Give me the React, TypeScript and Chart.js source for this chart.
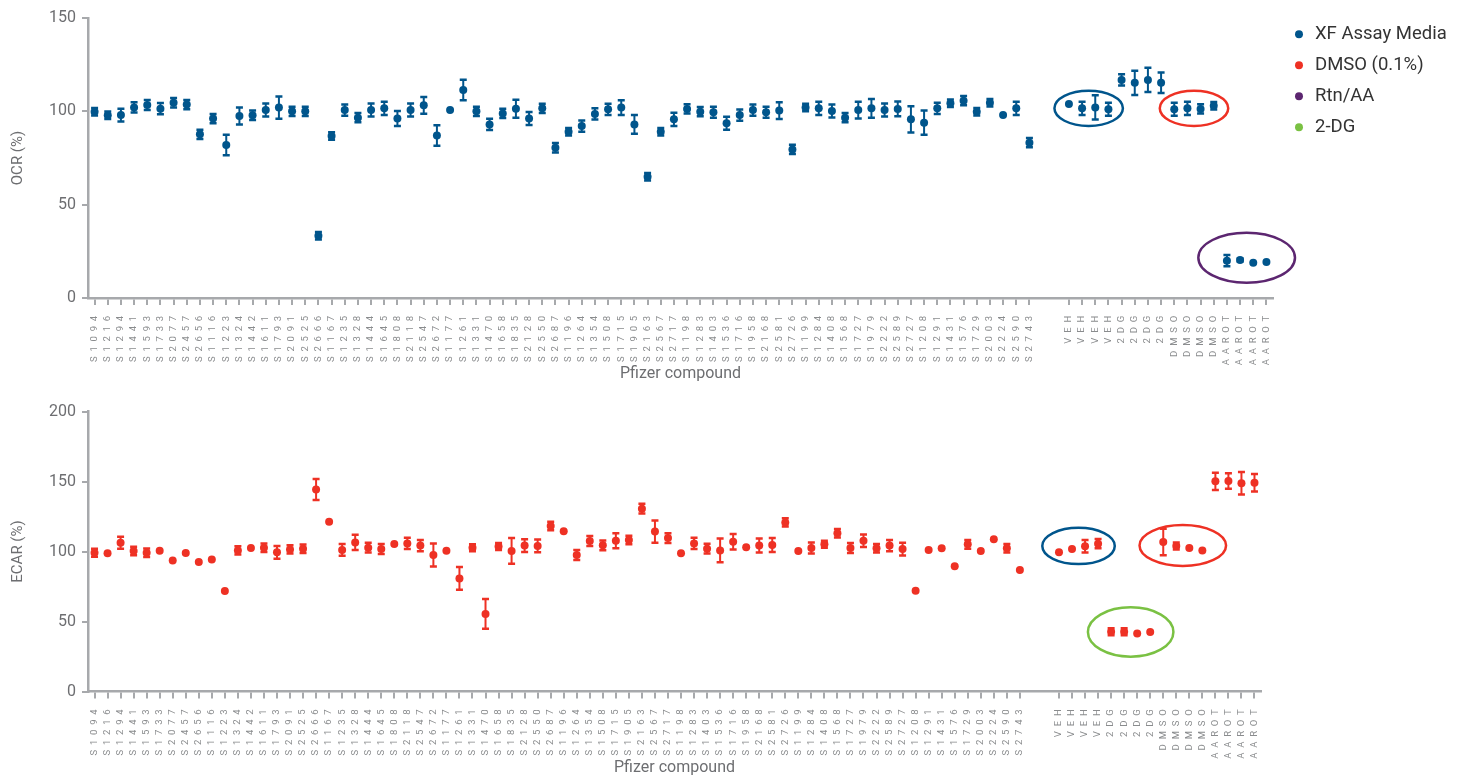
import React, { useEffect, useRef } from 'react';
import { Chart, registerables } from 'chart.js';

Chart.register(...registerables);

// ---------- data ----------
const compounds = [
  'S1094', 'S1216', 'S1294', 'S1441', 'S1593', 'S1733', 'S2077', 'S2457', 'S2656',
  'S1116', 'S1223', 'S1324', 'S1442', 'S1611', 'S1793', 'S2091', 'S2525', 'S2666',
  'S1167', 'S1235', 'S1328', 'S1444', 'S1645', 'S1808', 'S2118', 'S2547', 'S2672',
  'S1177', 'S1261', 'S1331', 'S1470', 'S1658', 'S1835', 'S2128', 'S2550', 'S2687',
  'S1196', 'S1264', 'S1354', 'S1508', 'S1715', 'S1905', 'S2163', 'S2567', 'S2717',
  'S1198', 'S1283', 'S1403', 'S1536', 'S1716', 'S1958', 'S2168', 'S2581', 'S2726',
  'S1199', 'S1284', 'S1408', 'S1568', 'S1727', 'S1979', 'S2222', 'S2589', 'S2727',
  'S1208', 'S1291', 'S1431', 'S1576', 'S1729', 'S2003', 'S2224', 'S2590', 'S2743',
];
const spacerLabels = ['', ''];
const controls = [
  'VEH', 'VEH', 'VEH', 'VEH', '2DG', '2DG', '2DG', '2DG',
  'DMSO', 'DMSO', 'DMSO', 'DMSO', 'AAROT', 'AAROT', 'AAROT', 'AAROT',
];

const ocrCompound = [
  99.8, 97.9, 98.0, 102.1, 103.4, 101.4, 104.6, 103.6, 87.7,
  96.1, 82.0, 97.5, 97.9, 100.7, 102.0, 100.0, 100.0, 33.4,
  86.8, 100.7, 96.6, 100.7, 101.6, 96.2, 100.7, 103.2, 87.1,
  100.7, 111.4, 100.0, 93.0, 98.9, 101.4, 96.2, 101.6, 80.5,
  89.1, 92.1, 98.6, 101.1, 102.0, 93.0, 65.0, 89.1, 95.7,
  101.3, 99.8, 99.5, 93.6, 98.0, 100.7, 99.5, 100.4, 79.6,
  102.1, 101.6, 100.2, 96.6, 100.7, 101.6, 100.7, 101.3, 95.7,
  93.9, 101.6, 104.3, 105.7, 99.8, 104.6, 98.0, 101.6, 83.2,
];
const ocrCompoundErr = [
  2, 2, 3.4, 2.7, 2.7, 3, 2.5, 2.5, 2.5,
  2.5, 5.5, 4.6, 2.5, 3.5, 6, 2.5, 2.5, 2,
  2, 3, 2.5, 3.5, 3.5, 4, 3.5, 4.5, 5.5,
  0, 5.5, 2.5, 3, 2.5, 4.8, 3.5, 2.5, 2.5,
  2, 3, 3, 3, 4, 5, 2, 2, 3.5,
  2.5, 2.5, 3, 3.5, 3, 3, 3, 4.5, 2.5,
  2, 3.5, 3.5, 2.5, 4.5, 5, 3.5, 4, 7,
  6.5, 3, 2, 2.5, 2, 2, 0, 3.5, 2.5,
];
const ocrControl = [
  103.9, 101.6, 102.1, 101.1, 116.8, 115.3, 116.8, 115.3,
  101.1, 101.6, 101.3, 103.0, 20.0, 20.4, 18.9, 19.3,
];
const ocrControlErr = [
  0, 3.6, 6.5, 3.5, 3, 6.5, 6.5, 5.5,
  3.5, 3.5, 2.5, 2, 3, 0.8, 0, 0,
];

const ecarCompound = [
  99.1, 98.7, 106.3, 100.4, 99.1, 100.5, 93.5, 98.9, 92.5,
  94.2, 71.8, 100.8, 102.5, 102.7, 99.4, 101.5, 102.0, 144.2,
  121.3, 101.1, 106.5, 102.7, 101.8, 105.4, 105.8, 104.2, 97.5,
  100.5, 80.8, 102.7, 55.4, 103.6, 100.4, 104.2, 104.0, 118.2,
  114.4, 97.5, 107.5, 104.4, 107.7, 108.2, 130.6, 114.2, 109.6,
  98.7, 105.8, 102.0, 100.8, 107.0, 103.0, 104.2, 104.6, 120.8,
  100.4, 102.5, 105.1, 113.0, 102.5, 107.7, 102.3, 104.2, 101.7,
  72.0, 101.1, 102.3, 89.4, 105.1, 100.4, 108.7, 102.3, 86.8,
];
const ecarCompoundErr = [
  2.9, 0, 4.3, 3, 3, 0, 0, 0, 0,
  0, 0, 3, 0, 3, 4.6, 3, 3, 7.5,
  0, 4.2, 5.4, 3.5, 3.5, 0, 4, 4, 8.3,
  0, 8.2, 2.5, 10.6, 2.5, 9.2, 4.5, 4.5, 3,
  0, 3.5, 3.5, 3.5, 5.4, 3, 3.5, 7.9, 3.5,
  0, 4, 3.5, 8.5, 5.5, 0, 5, 5, 3,
  0, 4, 2.5, 3, 3.5, 4.5, 3, 4, 4.5,
  0, 0, 0, 0, 3.1, 0, 0, 3, 0,
];
const ecarControl = [
  99.4, 101.8, 103.7, 105.6, 42.7, 42.7, 41.5, 42.5,
  106.8, 103.9, 102.5, 100.8, 150.1, 150.4, 148.7, 149.1,
];
const ecarControlErr = [
  0, 0, 4.5, 3.3, 2.5, 2.5, 0, 0,
  9.4, 2.5, 0, 0, 6.2, 5.5, 8, 6.2,
];

const ocrTicks = [0, 50, 100, 150];
const ecarTicks = [0, 50, 100, 150, 200];

const legendLabels = ['XF Assay Media', 'DMSO (0.1%)', 'Rtn/AA', '2-DG'];

// ---------- styles ----------
const BLUE = '#00558c';
const RED = '#ee3124';
const PURPLE = '#5c2670';
const GREEN = '#7ac143';
const legendColors = [BLUE, RED, PURPLE, GREEN];
const AXIS = '#a7a9ac';
const TEXT = '#6d6e71';
const FONT = 'Roboto';

const allLabels = [...compounds, ...spacerLabels, ...controls];

// highlight ellipses (annotation config): group, centre value, half width in categories, half height in value units
const ocrHighlights = [
  { group: 'VEH', center: 101.6, halfCats: 2.6, halfUnits: 9.4, color: BLUE },
  { group: 'DMSO', center: 101.6, halfCats: 2.6, halfUnits: 9.4, color: RED },
  { group: 'AAROT', center: 21.6, halfCats: 3.67, halfUnits: 13.4, color: PURPLE },
];
const ecarHighlights = [
  { group: 'VEH', center: 104, halfCats: 2.78, halfUnits: 13, color: BLUE },
  { group: 'DMSO', center: 104.3, halfCats: 3.32, halfUnits: 14.6, color: RED },
  { group: '2DG', center: 42.5, halfCats: 3.28, halfUnits: 17.6, color: GREEN },
];

// ---------- plugins ----------
const errorBarPlugin = {
  id: 'errorBars',
  beforeDatasetsDraw(chart: any, _args: any, opts: any) {
    const ctx = chart.ctx;
    const xs = chart.scales.x;
    const ys = chart.scales.y;
    chart.data.datasets.forEach((ds: any) => {
      const errs = ds.errors;
      if (!errs) return;
      ctx.save();
      ctx.strokeStyle = ds.pointBackgroundColor;
      ds.data.forEach((v: number | null, i: number) => {
        const e = errs[i];
        if (v == null || !e) return;
        const px = xs.getPixelForValue(i);
        const yt = ys.getPixelForValue(v + e);
        const yb = ys.getPixelForValue(v - e);
        ctx.lineWidth = opts.lineWidth;
        ctx.beginPath();
        ctx.moveTo(px, yt);
        ctx.lineTo(px, yb);
        ctx.stroke();
        ctx.lineWidth = opts.capWidth;
        ctx.beginPath();
        ctx.moveTo(px - opts.capHalf, yt);
        ctx.lineTo(px + opts.capHalf, yt);
        ctx.moveTo(px - opts.capHalf, yb);
        ctx.lineTo(px + opts.capHalf, yb);
        ctx.stroke();
      });
      ctx.restore();
    });
  },
};

const ellipsePlugin = {
  id: 'ellipses',
  afterDatasetsDraw(chart: any, _args: any, opts: any) {
    const items = opts.items || [];
    const ctx = chart.ctx;
    const xs = chart.scales.x;
    const ys = chart.scales.y;
    const labels = chart.data.labels as string[];
    const step = xs.getPixelForValue(1) - xs.getPixelForValue(0);
    items.forEach((it: any) => {
      const idx: number[] = [];
      labels.forEach((l, i) => { if (l === it.group) idx.push(i); });
      if (!idx.length) return;
      const cx = idx.reduce((s, i) => s + xs.getPixelForValue(i), 0) / idx.length;
      const cy = ys.getPixelForValue(it.center);
      const rx = it.halfCats * step;
      const ry = Math.abs(ys.getPixelForValue(it.center + it.halfUnits) - cy);
      ctx.save();
      ctx.strokeStyle = it.color;
      ctx.lineWidth = opts.lineWidth;
      ctx.beginPath();
      ctx.ellipse(cx, cy, rx, ry, 0, 0, Math.PI * 2);
      ctx.stroke();
      ctx.restore();
    });
  },
};

const spacedTicksPlugin = {
  id: 'spacedTicks',
  beforeDraw(chart: any, _args: any, opts: any) {
    const s: any = chart.scales.x;
    if (!s || s.__spaced) return;
    const orig = s.drawLabels.bind(s);
    s.drawLabels = (area: any) => {
      const c = s.ctx;
      c.save();
      c.letterSpacing = opts.spacing + 'px';
      orig(area);
      c.restore();
    };
    s.__spaced = true;
  },
};

// nudges the legend box a little away from the plot area
const legendNudgePlugin = {
  id: 'legendNudge',
  afterLayout(chart: any, _args: any, opts: any) {
    const lg = chart.legend;
    if (!lg || !lg.options.display) return;
    lg.left += opts.dx;
    lg.right += opts.dx;
    lg.top += opts.dy;
    lg.bottom += opts.dy;
  },
};

// ---------- config ----------
function buildConfig(p: {
  values: (number | null)[];
  errors: number[];
  color: string;
  ticks: number[];
  title: string;
  highlights: any[];
  legend: boolean;
  padding: any;
  xHeight: number;
}) {
  return {
    type: 'line' as const,
    data: {
      labels: allLabels,
      datasets: [
        {
          label: p.title,
          data: p.values,
          errors: p.errors,
          showLine: false,
          pointRadius: 4,
          pointHoverRadius: 4,
          pointBorderWidth: 0,
          pointBackgroundColor: p.color,
          borderColor: p.color,
        } as any,
      ],
    },
    options: {
      responsive: false,
      animation: false as const,
      events: [] as any[],
      layout: { padding: p.padding },
      scales: {
        x: {
          type: 'category' as const,
          offset: true,
          grid: {
            display: true,
            drawOnChartArea: false,
            drawTicks: true,
            tickLength: 7,
            offset: false,
            lineWidth: 2,
            color: (c: any) => (allLabels[c.index] === '' ? 'rgba(0,0,0,0)' : AXIS),
          },
          border: { display: true, color: AXIS, width: 2.5 },
          ticks: {
            autoSkip: false,
            maxRotation: 90,
            minRotation: 90,
            padding: 6,
            color: '#8a8c8e',
            font: { family: FONT, size: 9.5 },
          },
          title: {
            display: true,
            text: 'Pfizer compound',
            color: TEXT,
            font: { family: FONT, size: 16 },
            padding: { top: 0, bottom: 0 },
          },
          afterFit: (s: any) => { s.height = p.xHeight; },
        },
        y: {
          min: p.ticks[0],
          max: p.ticks[p.ticks.length - 1],
          afterBuildTicks: (s: any) => { s.ticks = p.ticks.map((v) => ({ value: v })); },
          grid: { drawOnChartArea: false, drawTicks: true, tickLength: 6, lineWidth: 2, color: AXIS },
          border: { display: true, color: AXIS, width: 2.5 },
          ticks: {
            padding: 6,
            color: TEXT,
            font: { family: FONT, size: 16, lineHeight: 0.5 },
          },
          title: {
            display: true,
            text: p.title,
            color: TEXT,
            font: { family: FONT, size: 15 },
            padding: { top: 1, bottom: 0 },
          },
          afterFit: (s: any) => { s.width = 80; },
        },
      },
      plugins: {
        tooltip: { enabled: false },
        legend: {
          display: p.legend,
          position: 'right' as const,
          align: 'start' as const,
          maxWidth: 170,
          labels: {
            usePointStyle: true,
            pointStyle: 'circle',
            boxWidth: 13.5,
            boxHeight: 5.6,
            padding: 12.5,
            color: '#333333',
            font: { family: FONT, size: 18.5 },
            generateLabels: () =>
              legendLabels.map((t, i) => ({
                text: t,
                fillStyle: legendColors[i],
                strokeStyle: legendColors[i],
                fontColor: '#333333',
                lineWidth: 0,
                pointStyle: 'circle',
                hidden: false,
                datasetIndex: 0,
              })),
          },
        },
        errorBars: { lineWidth: 2, capWidth: 2.5, capHalf: 3.5 },
        ellipses: { items: p.highlights, lineWidth: 2.5 },
        spacedTicks: { spacing: 4.8 },
        legendNudge: { dx: 6.75, dy: 1.5 },
      },
    },
    plugins: [errorBarPlugin, ellipsePlugin, spacedTicksPlugin, legendNudgePlugin],
  };
}

export default function App() {
  const topRef = useRef<HTMLCanvasElement>(null);
  const botRef = useRef<HTMLCanvasElement>(null);

  useEffect(() => {
    const top = new Chart(topRef.current as HTMLCanvasElement, buildConfig({
      values: [...ocrCompound, null, null, ...ocrControl],
      errors: [...ocrCompoundErr, 0, 0, ...ocrControlErr],
      color: BLUE,
      ticks: ocrTicks,
      title: 'OCR (%)',
      highlights: ocrHighlights,
      legend: true,
      padding: { top: 3, right: 15, bottom: 14, left: 0 },
      xHeight: 86,
    }) as any);
    const bottom = new Chart(botRef.current as HTMLCanvasElement, buildConfig({
      values: [...ecarCompound, null, null, ...ecarControl],
      errors: [...ecarCompoundErr, 0, 0, ...ecarControlErr],
      color: RED,
      ticks: ecarTicks,
      title: 'ECAR (%)',
      highlights: ecarHighlights,
      legend: false,
      padding: { top: 13.5, right: 197, bottom: 0, left: 0 },
      xHeight: 86.5,
    }) as any);
    return () => {
      top.destroy();
      bottom.destroy();
    };
  }, []);

  return (
    <div style={{ width: 1450 }}>
      <canvas ref={topRef} width={1450} height={390} style={{ display: 'block' }} />
      <canvas ref={botRef} width={1450} height={380} style={{ display: 'block' }} />
    </div>
  );
}
